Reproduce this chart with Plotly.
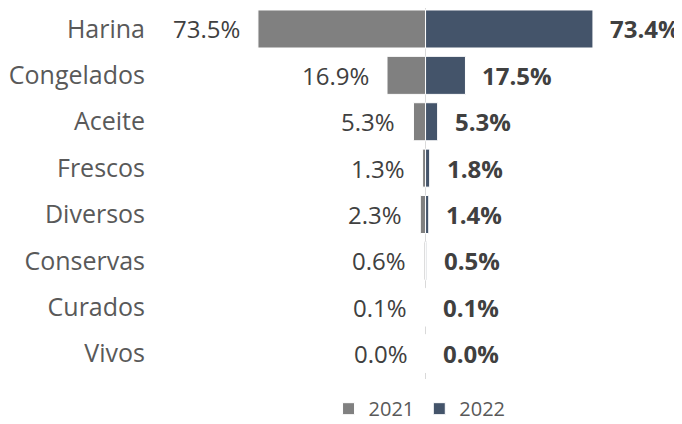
import plotly.graph_objects as go

categories = ["Harina", "Congelados", "Aceite", "Frescos", "Diversos", "Conservas", "Curados", "Vivos"]
share_2021 = [73.5, 16.9, 5.3, 1.3, 2.3, 0.6, 0.1, 0.0]
share_2022 = [73.4, 17.5, 5.3, 1.8, 1.4, 0.5, 0.1, 0.0]

gray = "#808080"
blue = "#44546A"
text_col = "#404040"
label_col = "#595959"
font = "Open Sans"

fig = go.Figure()
fig.add_trace(go.Bar(
    y=categories, x=[-v for v in share_2021], orientation="h", name="2021",
    marker=dict(color=gray, line=dict(color="white", width=1)),
))
fig.add_trace(go.Bar(
    y=categories, x=share_2022, orientation="h", name="2022",
    marker=dict(color=blue, line=dict(color="white", width=1)),
))

# value labels: regular on the left, bold on the right
annotations = []
for cat, v in zip(categories, share_2021):
    annotations.append(dict(
        x=-v, y=cat, xref="x", yref="y", text=f"{v:.1f}%", showarrow=False,
        xanchor="right", xshift=-16, font=dict(family=font, size=24, color=text_col),
    ))
for cat, v in zip(categories, share_2022):
    annotations.append(dict(
        x=v, y=cat, xref="x", yref="y", text=f"<b>{v:.1f}%</b>", showarrow=False,
        xanchor="left", xshift=15, font=dict(family=font, size=24, color=text_col),
    ))

fig.update_layout(
    width=682, height=424,
    margin=dict(l=148, r=25, t=0, b=53),
    barmode="relative", bargap=0.18,
    plot_bgcolor="white", paper_bgcolor="white",
    font=dict(family=font, color=label_col),
    annotations=annotations,
    showlegend=True,
    legend=dict(orientation="h", xref="container", x=0.47, xanchor="left",
                yref="container", y=0.055, yanchor="middle",
                font=dict(family=font, size=20, color=label_col)),
)
fig.update_xaxes(range=[-118.2, 105.0], showticklabels=False, showgrid=False,
                 zeroline=True, zerolinecolor="#D9D9D9", zerolinewidth=1, automargin=False)
fig.update_yaxes(range=[7.5474, -0.4526], showgrid=False, ticks="", automargin=False,
                 ticklabelstandoff=10, tickfont=dict(family=font, size=25, color=label_col))

fig.write_html("out.html")
